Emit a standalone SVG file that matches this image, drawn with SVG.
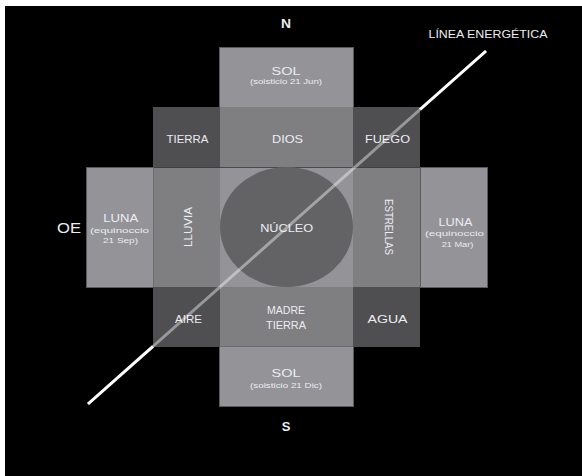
<svg xmlns="http://www.w3.org/2000/svg" width="582" height="476" viewBox="0 0 582 476">
<style>
.t{font-family:"Liberation Sans",Arial,sans-serif;fill:#ececf2;text-anchor:middle;font-size:11px}
.s{font-size:7.6px}
.c{font-size:13px}
.light{fill:#939398}
.mid{fill:#7f7f82}
.dark{fill:#4f4f51}
.outer{fill:#939398;stroke:#5a5a5d;stroke-width:1}
</style>
<rect x="0" y="0" width="582" height="476" fill="#ffffff"/>
<rect x="5" y="6" width="577" height="470" fill="#000000"/>
<g id="sol-norte"><rect class="outer" x="219.5" y="47.5" width="134" height="60"/>
<text class="t" x="286" y="75" textLength="29" lengthAdjust="spacingAndGlyphs">SOL</text>
<text class="t s" x="286" y="84" textLength="72" lengthAdjust="spacingAndGlyphs">(solsticio 21 Jun)</text></g>
<g id="sol-sur"><rect class="outer" x="219.5" y="346.5" width="134" height="60"/>
<text class="t" x="286" y="377" textLength="29" lengthAdjust="spacingAndGlyphs">SOL</text>
<text class="t s" x="286" y="388" textLength="72" lengthAdjust="spacingAndGlyphs">(solsticio 21 Dic)</text></g>
<g id="luna-oeste"><rect class="outer" x="86.5" y="167.5" width="67" height="120"/>
<text class="t" x="120.8" y="222" textLength="35" lengthAdjust="spacingAndGlyphs">LUNA</text>
<text class="t s" x="119.5" y="233" textLength="59" lengthAdjust="spacingAndGlyphs">(equinoccio</text>
<text class="t s" x="120.5" y="243" textLength="35" lengthAdjust="spacingAndGlyphs">21 Sep)</text></g>
<g id="luna-este"><rect class="outer" x="420.5" y="167.5" width="67" height="120"/>
<text class="t" x="455.5" y="226" textLength="34" lengthAdjust="spacingAndGlyphs">LUNA</text>
<text class="t s" x="454.5" y="236" textLength="59" lengthAdjust="spacingAndGlyphs">(equinoccio</text>
<text class="t s" x="457.5" y="247" textLength="31.6" lengthAdjust="spacingAndGlyphs">21 Mar)</text></g>
<g id="tierra"><rect class="dark" x="153" y="107" width="67" height="60"/>
<text class="t" x="187.5" y="143" textLength="42" lengthAdjust="spacingAndGlyphs">TIERRA</text></g>
<g id="fuego"><rect class="dark" x="353" y="107" width="67" height="60"/>
<text class="t" x="387.5" y="143" textLength="45" lengthAdjust="spacingAndGlyphs">FUEGO</text></g>
<g id="aire"><rect class="dark" x="153" y="287" width="67" height="60"/>
<text class="t" x="188.6" y="323" textLength="27" lengthAdjust="spacingAndGlyphs">AIRE</text></g>
<g id="agua"><rect class="dark" x="353" y="287" width="67" height="60"/>
<text class="t" x="387.5" y="323" textLength="40" lengthAdjust="spacingAndGlyphs">AGUA</text></g>
<g id="dios"><rect class="mid" x="220" y="107" width="133" height="60"/>
<text class="t" x="287.5" y="143" textLength="31" lengthAdjust="spacingAndGlyphs">DIOS</text></g>
<g id="madre-tierra"><rect class="mid" x="220" y="287" width="133" height="59.5"/>
<text class="t" x="286" y="314" textLength="38" lengthAdjust="spacingAndGlyphs">MADRE</text>
<text class="t" x="286" y="329" textLength="40" lengthAdjust="spacingAndGlyphs">TIERRA</text></g>
<g id="lluvia"><rect class="mid" x="153.5" y="167.5" width="66.5" height="119.5"/>
<text class="t" transform="translate(191.5,227) rotate(-90)" x="0" y="0" textLength="40" lengthAdjust="spacingAndGlyphs">LLUVIA</text></g>
<g id="estrellas"><rect class="mid" x="353" y="167.5" width="67" height="119.5"/>
<text class="t" transform="translate(384.5,227) rotate(90)" x="0" y="0" textLength="56" lengthAdjust="spacingAndGlyphs">ESTRELLAS</text></g>
<g id="nucleo"><rect class="light" x="220" y="167.5" width="133" height="119.5"/>
<ellipse cx="286.5" cy="227" rx="66.5" ry="60" fill="#636365"/>
<text class="t" x="286.7" y="232" textLength="53" lengthAdjust="spacingAndGlyphs">NÚCLEO</text></g>
<g id="connectors">
<line x1="486" y1="51" x2="88" y2="404" stroke="#ffffff" stroke-opacity="0.42" stroke-width="3"/>
<line x1="486" y1="51" x2="420" y2="109.5" stroke="#ffffff" stroke-width="3"/>
<line x1="153" y1="346.4" x2="88" y2="404" stroke="#ffffff" stroke-width="3"/>
</g>
<g id="labels">
<text class="t c" x="286" y="28" font-weight="bold" textLength="10" lengthAdjust="spacingAndGlyphs">N</text>
<text class="t" x="488" y="38" textLength="119" lengthAdjust="spacingAndGlyphs">LÍNEA ENERGÉTICA</text>
<text class="t" x="69" y="232.5" style="font-size:15px" textLength="24" lengthAdjust="spacingAndGlyphs">OE</text>
<text class="t c" x="286" y="431" font-weight="bold">S</text>
</g>
</svg>
